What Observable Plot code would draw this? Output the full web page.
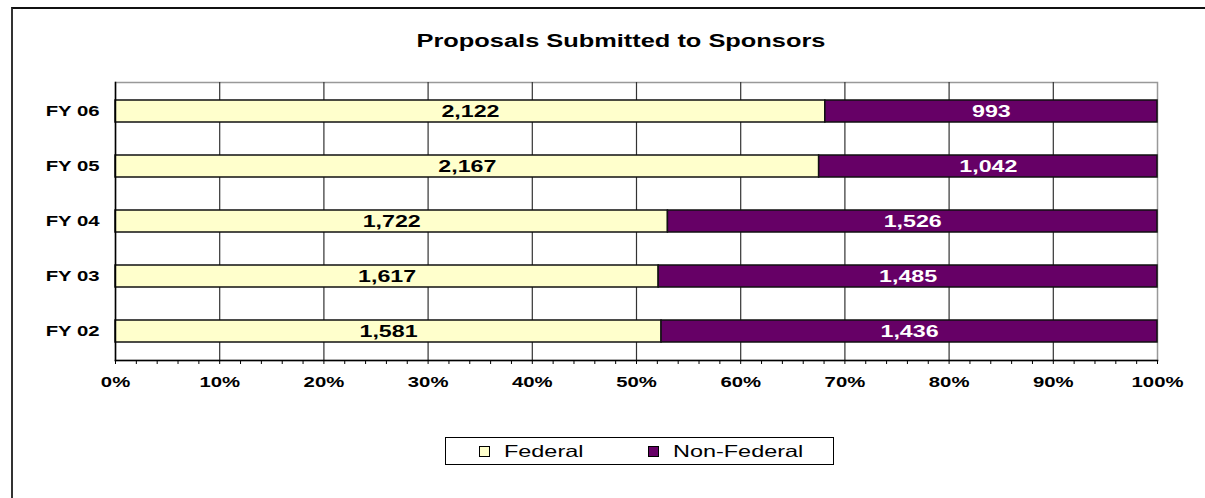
<!DOCTYPE html>
<html>
<head>
<meta charset="utf-8">
<script src="https://cdn.jsdelivr.net/npm/d3@7"></script>
<script src="https://cdn.jsdelivr.net/npm/@observablehq/plot@0.6"></script>
<style>
  html, body { margin: 0; padding: 0; background: #fff; }
  #wrap { position: relative; width: 1205px; height: 498px; overflow: hidden; font-family: "Liberation Sans", Arial, sans-serif; }
  #border { position: absolute; left: 11px; top: 7px; width: 1400px; height: 700px; border-left: 2px solid #333; border-top: 2px solid #111; box-sizing: border-box; }
  #chart { position: absolute; left: 0; top: 0; }
  #title { position: absolute; left: 0; width: 1242px; top: 31px; line-height: 20px; text-align: center; font-weight: bold; font-size: 17.5px; color: #000; }
  .stretch { display: inline-block; transform: scaleX(1.45); transform-origin: center; white-space: nowrap; }
  .stretchL { display: inline-block; transform: scaleX(1.42); transform-origin: left center; white-space: nowrap; }
  #legend { position: absolute; left: 445px; top: 437px; width: 389px; height: 28px; border: 1px solid #000; box-sizing: border-box; }
  .item { position: absolute; top: 0; height: 26px; }
  .sw { position: absolute; top: 8px; width: 9px; height: 9px; border: 1px solid #000; }
  .lt { position: absolute; left: 25px; top: 3px; font-size: 16.5px; line-height: 20px; color: #000; }
</style>
</head>
<body>
<div id="wrap">
  <div id="border"></div>
  <div id="chart"></div>
  <div id="title"><span class="stretch">Proposals Submitted to Sponsors</span></div>
  <div id="legend"></div>
</div>
<script>
const years = ["FY 06", "FY 05", "FY 04", "FY 03", "FY 02"];
const federal = [2122, 2167, 1722, 1617, 1581];
const nonFederal = [993, 1042, 1526, 1485, 1436];
const series = ["Federal", "Non-Federal"];
const colors = ["#FFFFCC", "#660066"];
const labelColors = ["#000000", "#FFFFFF"];
const majorTicks = [0, 0.1, 0.2, 0.3, 0.4, 0.5, 0.6, 0.7, 0.8, 0.9, 1];
const minorTicks = d3.range(0, 51).map(i => i / 50);

const data = years.flatMap((y, i) => [
  {year: y, series: series[0], value: federal[i]},
  {year: y, series: series[1], value: nonFederal[i]}
]);
const fmt = d3.format(",");

const K = 1.45;

const plot = Plot.plot({
  width: 1205,
  height: 400,
  marginLeft: 115,
  marginRight: 48,
  marginTop: 82,
  marginBottom: 40,
  style: {fontFamily: "'Liberation Sans', Arial, sans-serif", background: "transparent", overflow: "visible", color: "#000"},
  x: {domain: [0, 1], label: null},
  y: {domain: years, paddingInner: 0.6, paddingOuter: 0.3, label: null},
  color: {domain: series, range: colors},
  marks: [
    Plot.frame({stroke: "#999", strokeWidth: 1.5}),
    Plot.ruleX(majorTicks.slice(1, -1), {stroke: "#333", strokeWidth: 1.2}),
    Plot.barX(data, Plot.stackX({x: "value", y: "year", z: "series", fill: "series", offset: "normalize", stroke: "#111", strokeWidth: 1.5})),
    Plot.text(data, Plot.stackX({x: "value", y: "year", z: "series", offset: "normalize",
      text: d => d.series === series[0] ? fmt(d.value) : "", fill: labelColors[0], fontWeight: "bold", fontSize: 16})),
    Plot.text(data, Plot.stackX({x: "value", y: "year", z: "series", offset: "normalize",
      text: d => d.series === series[1] ? fmt(d.value) : "", fill: labelColors[1], fontWeight: "bold", fontSize: 16})),
    Plot.frame({anchor: "left", stroke: "#000", strokeWidth: 1.5}),
    Plot.frame({anchor: "bottom", stroke: "#000", strokeWidth: 1.5}),
    Plot.axisX({ticks: minorTicks, tickSize: 4, tickFormat: () => "", stroke: "#000", label: null}),
    Plot.axisX({ticks: majorTicks, tickSize: 0, tickPadding: 17, tickFormat: d3.format(".0%"), fontWeight: "bold", fontSize: 14, fill: "#000", label: null}),
    Plot.axisY({tickSize: 0, tickPadding: 16, fontWeight: "bold", fontSize: 14, fill: "#000", label: null})
  ]
});

document.getElementById("chart").appendChild(plot);

// emulate the horizontally stretched text of the original picture
plot.querySelectorAll("text").forEach(t => {
  const len = t.getComputedTextLength();
  if (len > 0) {
    t.setAttribute("textLength", (len * K).toFixed(2));
    t.setAttribute("lengthAdjust", "spacingAndGlyphs");
  }
});

// legend
const legend = document.getElementById("legend");
const legendOffsets = [33, 202];
series.forEach((s, i) => {
  const item = document.createElement("div");
  item.className = "item";
  item.style.left = legendOffsets[i] + "px";
  const sw = document.createElement("div");
  sw.className = "sw";
  sw.style.background = colors[i];
  const lt = document.createElement("div");
  lt.className = "lt";
  lt.innerHTML = `<span class="stretchL">${s}</span>`;
  item.appendChild(sw);
  item.appendChild(lt);
  legend.appendChild(item);
});
</script>
</body>
</html>
